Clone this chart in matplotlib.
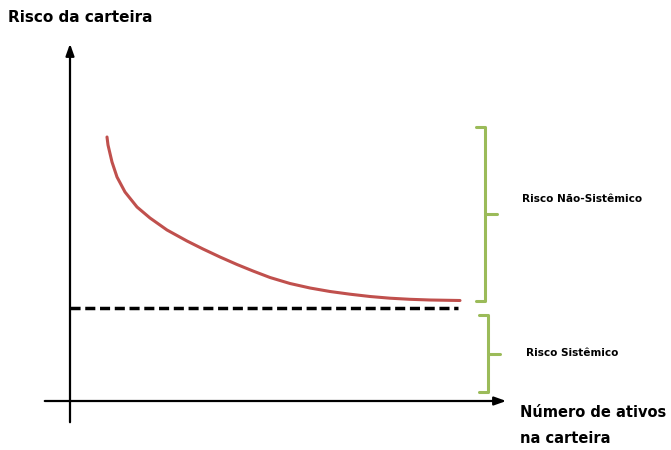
import matplotlib.pyplot as plt

# Data (assets on x, portfolio risk on y)
n_assets = [3.7, 3.8, 4.2, 4.7, 5.5, 6.7, 8.0, 9.7, 11.7, 13.3, 15.0, 16.7, 18.3, 20.0,
            22.0, 24.0, 26.0, 28.0, 30.0, 32.0, 34.0, 36.0, 39.0]
portfolio_risk = [26.4, 25.6, 23.9, 22.4, 20.9, 19.4, 18.3, 17.1, 16.0, 15.2, 14.4, 13.65, 13.0, 12.35,
                  11.75, 11.3, 10.95, 10.68, 10.45, 10.28, 10.17, 10.1, 10.05]
systematic_risk = 9.3
dash_end = 38.8

y_label = 'Risco da carteira'
x_label = 'Número de ativos\nna carteira'
brace_labels = ['Risco Não-Sistêmico', 'Risco Sistêmico']

red = '#C0504D'
green = '#9BBB59'

fig = plt.figure(figsize=(6.71, 4.5), dpi=100)
ax = fig.add_axes([0, 0, 1, 1])
ax.set_xlim(-7.0, 60.1)
ax.set_ylim(-4.9, 40.1)
ax.axis('off')

# axes with arrows
ax.annotate('', xy=(0, 36.0), xytext=(0, -2.4),
            arrowprops=dict(arrowstyle='-|>,head_length=0.7,head_width=0.25', color='black', lw=1.6))
ax.annotate('', xy=(43.9, 0), xytext=(-2.8, 0),
            arrowprops=dict(arrowstyle='-|>,head_length=0.7,head_width=0.25', color='black', lw=1.6))

# curve and systematic risk line
ax.plot(n_assets, portfolio_risk, color=red, lw=2.2, solid_capstyle='round', solid_joinstyle='round')
ax.plot([0, dash_end], [systematic_risk, systematic_risk], color='black', lw=2.5,
        dashes=(2.9, 1.35))


def brace(x, y0, y1, hook=0.9, tick=1.2):
    mid = (y0 + y1) / 2
    ax.plot([x - hook, x, x, x - hook], [y1, y1, y0, y0], color=green, lw=2.2,
            solid_joinstyle='round', solid_capstyle='round')
    ax.plot([x, x + tick], [mid, mid], color=green, lw=2.2, solid_capstyle='round')
    return mid


gap = 0.7
m1 = brace(41.5, systematic_risk + gap, max(portfolio_risk) + 1.0)
m2 = brace(41.8, 0.9, systematic_risk - gap)

ax.text(45.2, m1 + 1.5, brace_labels[0], fontsize=7.6, fontweight='bold', va='center', ha='left')
ax.text(45.6, m2, brace_labels[1], fontsize=7.6, fontweight='bold', va='center', ha='left')

ax.text(-6.2, 38.3, y_label, fontsize=11, fontweight='bold', va='center', ha='left')
ax.text(45.0, -0.4, x_label, fontsize=10.5, fontweight='bold', va='top', ha='left',
        linespacing=1.9)

fig.savefig('out.png', dpi=100)
